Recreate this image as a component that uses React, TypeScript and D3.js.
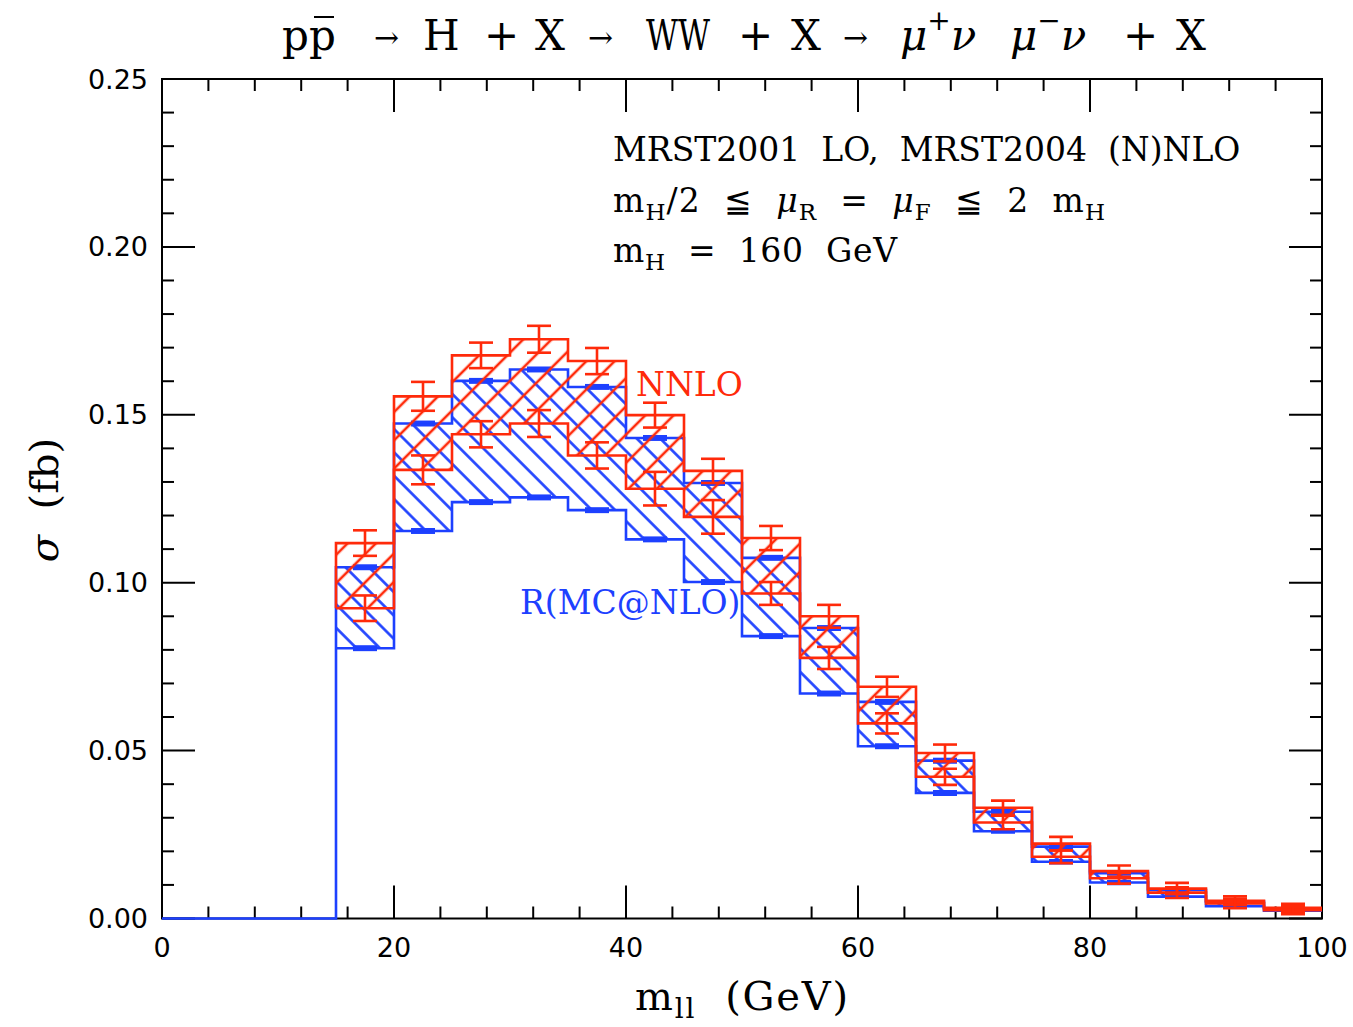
import React from "react";
import * as d3 from "d3";

// ---------- data ----------
const binEdges = [15, 20, 25, 30, 35, 40, 45, 50, 55, 60, 65, 70, 75, 80, 85, 90, 95, 100];
const mcUpper = [0.1046, 0.1474, 0.1601, 0.1635, 0.1583, 0.1431, 0.1297, 0.1074, 0.0865, 0.0645, 0.0470, 0.0318, 0.0214, 0.0135, 0.0085, 0.0050, 0.0030];
const mcLower = [0.0805, 0.1154, 0.1240, 0.1254, 0.1216, 0.1129, 0.1002, 0.0841, 0.0670, 0.0513, 0.0374, 0.0260, 0.0169, 0.0107, 0.0065, 0.0037, 0.0023];
const mcErr = [0.0005, 0.0005, 0.0005, 0.0005, 0.0005, 0.0005, 0.0005, 0.0005, 0.0005, 0.0005, 0.0005, 0.0004, 0.0004, 0.0004, 0.0003, 0.0003, 0.0003];
const nnloUpper = [0.1118, 0.1555, 0.1677, 0.1725, 0.1660, 0.1499, 0.1333, 0.1133, 0.0900, 0.0690, 0.0493, 0.0330, 0.0223, 0.0141, 0.0089, 0.0053, 0.0032];
const nnloLower = [0.0924, 0.1336, 0.1442, 0.1474, 0.1379, 0.1280, 0.1196, 0.0968, 0.0776, 0.0581, 0.0422, 0.0286, 0.0184, 0.0120, 0.0077, 0.0045, 0.0025];
const nnloUpErr = [0.0038, 0.0043, 0.0038, 0.0040, 0.0039, 0.0037, 0.0036, 0.0036, 0.0034, 0.0030, 0.0025, 0.0021, 0.0020, 0.0017, 0.0017, 0.0013, 0.0012];
const nnloLoErr = [0.0038, 0.0043, 0.0039, 0.0040, 0.0039, 0.0050, 0.0050, 0.0034, 0.0033, 0.0030, 0.0024, 0.0020, 0.0019, 0.0016, 0.0016, 0.0014, 0.0012];
const xMajorTicks = [0, 20, 40, 60, 80, 100];
const yMajorTicks = [0, 0.05, 0.1, 0.15, 0.2, 0.25];

const RED = "#ff2a0a";
const BLUE = "#1d40ff";
const S = "\u00A0";

export default function App() {
  const W = 1353, H = 1027;
  const left = 162, right = 1322, top = 79, bottom = 918.5;
  const x = d3.scaleLinear().domain([0, 100]).range([left, right]);
  const y = d3.scaleLinear().domain([0, 0.25]).range([bottom, top]);

  const xMinor = d3.range(0, 100.001, 4).filter((v) => !xMajorTicks.some((m) => Math.abs(m - v) < 1e-6));
  const yMinor = d3.range(0, 0.2501, 0.01).filter((v) => !yMajorTicks.some((m) => Math.abs(m - v) < 1e-6));

  type P = { x: number; v: number };
  const stepPts = (vals: number[]): P[] => {
    const pts: P[] = vals.map((v, i) => ({ x: binEdges[i], v }));
    pts.push({ x: binEdges[binEdges.length - 1], v: vals[vals.length - 1] });
    return pts;
  };

  const stepLine = d3
    .line<P>()
    .x((d) => x(d.x))
    .y((d) => y(d.v))
    .curve(d3.curveStepAfter);

  type B = { x: number; lo: number; hi: number };
  const bandPts = (lo: number[], hi: number[]): B[] => {
    const pts: B[] = lo.map((l, i) => ({ x: binEdges[i], lo: l, hi: hi[i] }));
    pts.push({ x: binEdges[binEdges.length - 1], lo: lo[lo.length - 1], hi: hi[hi.length - 1] });
    return pts;
  };
  const bandArea = d3
    .area<B>()
    .x((d) => x(d.x))
    .y0((d) => y(d.lo))
    .y1((d) => y(d.hi))
    .curve(d3.curveStepAfter);

  const mcUpperPts: P[] = [{ x: 0, v: 0 }, ...stepPts(mcUpper)];
  const nnloUpperPts: P[] = [{ x: binEdges[0], v: nnloLower[0] }, ...stepPts(nnloUpper)];

  const centers = binEdges.slice(0, -1).map((e, i) => (e + binEdges[i + 1]) / 2);
  const capHalf = 12;

  const errBar = (cx: number, v: number, eUp: number, eLo: number, color: string, key: string, sw: number) => {
    const px = x(cx);
    const y1 = y(v + eUp);
    const y2 = y(v - eLo);
    return (
      <g key={key} stroke={color} strokeWidth={sw}>
        <line x1={px} x2={px} y1={y1} y2={y2} />
        <line x1={px - capHalf} x2={px + capHalf} y1={y1} y2={y1} />
        <line x1={px - capHalf} x2={px + capHalf} y1={y2} y2={y2} />
      </g>
    );
  };

  const serif = "'DejaVu Serif', 'Liberation Serif', serif";
  const sans = "'DejaVu Sans', 'Liberation Sans', sans-serif";
  const bw = 16.5; // blue hatch perpendicular spacing
  const rw = 20;   // red hatch perpendicular spacing

  return (
    <svg width={W} height={H} style={{ position: "absolute", left: 0, top: 0, background: "#fff" }}>
      <defs>
        <clipPath id="plotClip">
          <rect x={left - 2} y={top} width={right - left + 2} height={bottom - top + 2} />
        </clipPath>
        <pattern id="hatchBlue" patternUnits="userSpaceOnUse" width={bw} height={20} patternTransform="rotate(-45)">
          <line x1={bw / 2} y1={0} x2={bw / 2} y2={20} stroke={BLUE} strokeWidth={2.6} />
        </pattern>
        <pattern id="hatchRed" patternUnits="userSpaceOnUse" width={rw} height={20} patternTransform="rotate(45)">
          <line x1={rw / 2} y1={0} x2={rw / 2} y2={20} stroke={RED} strokeWidth={2.6} />
        </pattern>
      </defs>

      {/* title */}
      <g fontFamily={serif} fontSize={42} fill="#000">
        <text x={282} y={50}>pp</text>
        <line x1={314} x2={334} y1={17} y2={17} stroke="#000" strokeWidth={2} />
        <text x={374} y={48} fontSize={30}>→</text>
        <text x={423} y={50}>H</text>
        <text x={484} y={50}>+</text>
        <text x={535} y={50}>X</text>
        <text x={588} y={48} fontSize={30}>→</text>
        <text x={646} y={50} textLength={64} lengthAdjust="spacingAndGlyphs">WW</text>
        <text x={738} y={50}>+</text>
        <text x={791} y={50}>X</text>
        <text x={843} y={48} fontSize={30}>→</text>
        <text x={900} y={50} fontStyle="italic">μ<tspan fontSize={28} dy={-20}>+</tspan><tspan dy={20}>ν</tspan></text>
        <text x={1010} y={50} fontStyle="italic">μ<tspan fontSize={28} dy={-20}>−</tspan><tspan dy={20}>ν</tspan></text>
        <text x={1123} y={50}>+</text>
        <text x={1176} y={50}>X</text>
      </g>

      {/* frame and ticks */}
      <g stroke="#000" strokeWidth={2}>
        <rect x={left} y={top} width={right - left} height={bottom - top} fill="none" />
        {xMajorTicks.map((t) => (
          <g key={`xM${t}`}>
            <line x1={x(t)} x2={x(t)} y1={bottom} y2={bottom - 33} />
            <line x1={x(t)} x2={x(t)} y1={top} y2={top + 33} />
          </g>
        ))}
        {xMinor.map((t) => (
          <g key={`xm${t}`}>
            <line x1={x(t)} x2={x(t)} y1={bottom} y2={bottom - 12} />
            <line x1={x(t)} x2={x(t)} y1={top} y2={top + 12} />
          </g>
        ))}
        {yMajorTicks.map((t) => (
          <g key={`yM${t}`}>
            <line x1={left} x2={left + 33} y1={y(t)} y2={y(t)} />
            <line x1={right} x2={right - 33} y1={y(t)} y2={y(t)} />
          </g>
        ))}
        {yMinor.map((t) => (
          <g key={`ym${t}`}>
            <line x1={left} x2={left + 12} y1={y(t)} y2={y(t)} />
            <line x1={right} x2={right - 12} y1={y(t)} y2={y(t)} />
          </g>
        ))}
      </g>

      {/* data */}
      <g clipPath="url(#plotClip)" fill="none" strokeLinejoin="miter">
        <path d={bandArea(bandPts(mcLower, mcUpper)) ?? ""} fill="url(#hatchBlue)" stroke="none" />
        <path d={stepLine(mcUpperPts) ?? ""} stroke={BLUE} strokeWidth={2.6} />
        <path d={stepLine(stepPts(mcLower)) ?? ""} stroke={BLUE} strokeWidth={2.6} />
        {centers.map((c, i) => errBar(c, mcUpper[i], mcErr[i], mcErr[i], BLUE, `mu${i}`, 2.6))}
        {centers.map((c, i) => errBar(c, mcLower[i], mcErr[i], mcErr[i], BLUE, `ml${i}`, 2.6))}

        <path d={bandArea(bandPts(nnloLower, nnloUpper)) ?? ""} fill="url(#hatchRed)" stroke="none" />
        <path d={stepLine(nnloUpperPts) ?? ""} stroke={RED} strokeWidth={2.6} />
        <path d={stepLine(stepPts(nnloLower)) ?? ""} stroke={RED} strokeWidth={2.6} />
        {centers.map((c, i) => errBar(c, nnloUpper[i], nnloUpErr[i], nnloUpErr[i], RED, `nu${i}`, 2.6))}
        {centers.map((c, i) => errBar(c, nnloLower[i], nnloLoErr[i], nnloLoErr[i], RED, `nl${i}`, 2.6))}
      </g>

      {/* tick labels */}
      <g fontFamily={sans} fontSize={27} fill="#000">
        {xMajorTicks.map((t) => (
          <text key={`xl${t}`} x={x(t)} y={957} textAnchor="middle">{t}</text>
        ))}
        {yMajorTicks.map((t) => (
          <text key={`yl${t}`} x={148} y={y(t) + 9.5} textAnchor="end">{t.toFixed(2)}</text>
        ))}
      </g>

      {/* axis titles */}
      <text x={635} y={1010} fontFamily={serif} fontSize={40} fill="#000" textLength={213} lengthAdjust="spacing">
        m<tspan fontSize={28} dy={8}>ll</tspan><tspan dy={-8}>{`${S}${S}(GeV)`}</tspan>
      </text>
      <text transform="translate(58,500) rotate(-90)" textAnchor="middle" fontFamily={serif} fontSize={40} fill="#000">
        <tspan fontStyle="italic">σ</tspan>{`${S}${S}(fb)`}
      </text>

      {/* annotations */}
      <g fontFamily={serif} fontSize={33} fill="#000">
        <text x={613} y={161}>{`MRST2001${S}${S}LO,${S}${S}MRST2004${S}${S}(N)NLO`}</text>
        <text x={613} y={212} textLength={492} lengthAdjust="spacing">
          m<tspan fontSize={23} dy={8}>H</tspan><tspan dy={-8}>{`/2${S}${S}≦${S}${S}`}</tspan>
          <tspan fontStyle="italic">μ</tspan><tspan fontSize={23} dy={8}>R</tspan><tspan dy={-8}>{`${S}${S}=${S}${S}`}</tspan>
          <tspan fontStyle="italic">μ</tspan><tspan fontSize={23} dy={8}>F</tspan><tspan dy={-8}>{`${S}${S}≦${S}${S}2${S}${S}m`}</tspan>
          <tspan fontSize={23} dy={8}>H</tspan>
        </text>
        <text x={613} y={262} textLength={284} lengthAdjust="spacing">
          m<tspan fontSize={23} dy={8}>H</tspan><tspan dy={-8}>{`${S}${S}=${S}${S}160${S}${S}GeV`}</tspan>
        </text>
      </g>
      <text x={636} y={396} fontFamily={serif} fontSize={33} fill={RED}>NNLO</text>
      <text x={520} y={614} fontFamily={serif} fontSize={33} fill={BLUE}>R(MC@NLO)</text>
    </svg>
  );
}
